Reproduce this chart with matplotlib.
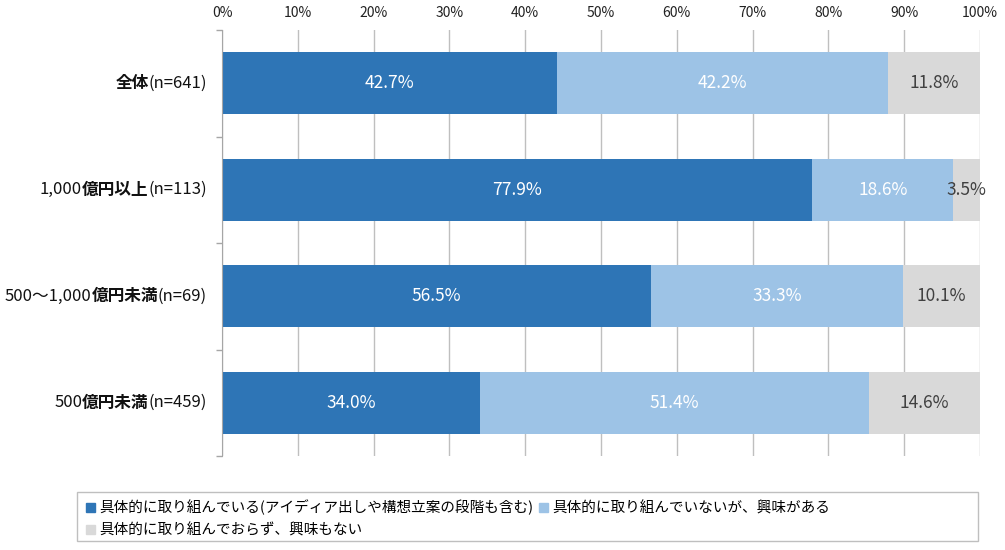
import matplotlib.pyplot as plt
from matplotlib.patches import Rectangle
import numpy as np

plt.rcParams['font.family'] = ['Noto Sans CJK JP', 'DejaVu Sans']

# 行ラベル（通常, 太字, 通常）
label_parts = [
    ('', '全体', '(n=641)'),
    ('1,000', '億円以上', '(n=113)'),
    ('500～1,000', '億円未満', '(n=69)'),
    ('500', '億円未満', '(n=459)'),
]
series_names = [
    '具体的に取り組んでいる(アイディア出しや構想立案の段階も含む)',
    '具体的に取り組んでいないが、興味がある',
    '具体的に取り組んでおらず、興味もない',
]
active = [42.7, 77.9, 56.5, 34.0]
interested = [42.2, 18.6, 33.3, 51.4]
not_interested = [11.8, 3.5, 10.1, 14.6]
x_ticks = [0, 10, 20, 30, 40, 50, 60, 70, 80, 90, 100]

colors = ['#2E75B6', '#9DC3E6', '#D9D9D9']
text_colors = ['white', 'white', '#404040']

fig = plt.figure(figsize=(10.05, 5.5), dpi=100)
ax = fig.add_axes([222 / 1005, 1 - 456 / 550, 758 / 1005, 426 / 550])

vals = np.array([active, interested, not_interested])
shares = vals / vals.sum(axis=0) * 100
y = np.arange(len(label_parts))

left = np.zeros(len(label_parts))
for k in range(3):
    ax.barh(y, shares[k], left=left, height=0.585, color=colors[k], zorder=2)
    for i in range(len(y)):
        ax.text(left[i] + shares[k][i] / 2, y[i], f'{vals[k][i]:.1f}%',
                ha='center', va='center', color=text_colors[k], fontsize=12.5, zorder=3)
    left += shares[k]

ax.set_xlim(0, 100)
ax.set_ylim(3.5, -0.5)
ax.xaxis.tick_top()
ax.set_xticks(x_ticks)
ax.set_xticklabels([f'{t}%' for t in x_ticks], fontsize=10, color='#222222')
ax.tick_params(axis='x', length=0, pad=7)
ax.set_yticks(np.arange(-0.5, 4, 1))
ax.set_yticklabels([])
ax.tick_params(axis='y', length=4, color='#A6A6A6', width=1)
ax.grid(axis='x', color='#BFBFBF', linewidth=1, zorder=0)
for s in ['top', 'right', 'bottom']:
    ax.spines[s].set_visible(False)
ax.spines['left'].set_color('#A6A6A6')

# カテゴリラベル（太字と通常を組み合わせ）
fig.canvas.draw()
renderer = fig.canvas.get_renderer()
for i, (pre, mid, post) in enumerate(label_parts):
    x_px = ax.transData.transform((0, y[i]))[0] - 15
    y_px = ax.transData.transform((0, y[i]))[1]
    for part, weight in [(post, 'normal'), (mid, 'bold'), (pre, 'normal')]:
        if not part:
            continue
        t = fig.text(x_px / fig.bbox.width, y_px / fig.bbox.height, part,
                     ha='right', va='center', fontsize=12, fontweight=weight, color='#111111')
        x_px -= t.get_window_extent(renderer).width

# 凡例
handles = [Rectangle((0, 0), 1, 1, color=c) for c in colors]
order = [0, 2, 1]
fig.legend([handles[i] for i in order], [series_names[i] for i in order],
           loc='upper left', bbox_to_anchor=(80 / 1005, 1 - 494 / 550), ncol=2,
           frameon=False, fontsize=10.5, handlelength=0.6, handleheight=0.6,
           handletextpad=0.3, columnspacing=0.4, labelspacing=0.55, borderaxespad=0)
fig.patches.append(Rectangle((77 / 1005, 1 - 541 / 550), 901 / 1005, 49 / 550,
                             transform=fig.transFigure, fill=False,
                             edgecolor='#BFBFBF', linewidth=1))

fig.savefig('out.png', dpi=100)
